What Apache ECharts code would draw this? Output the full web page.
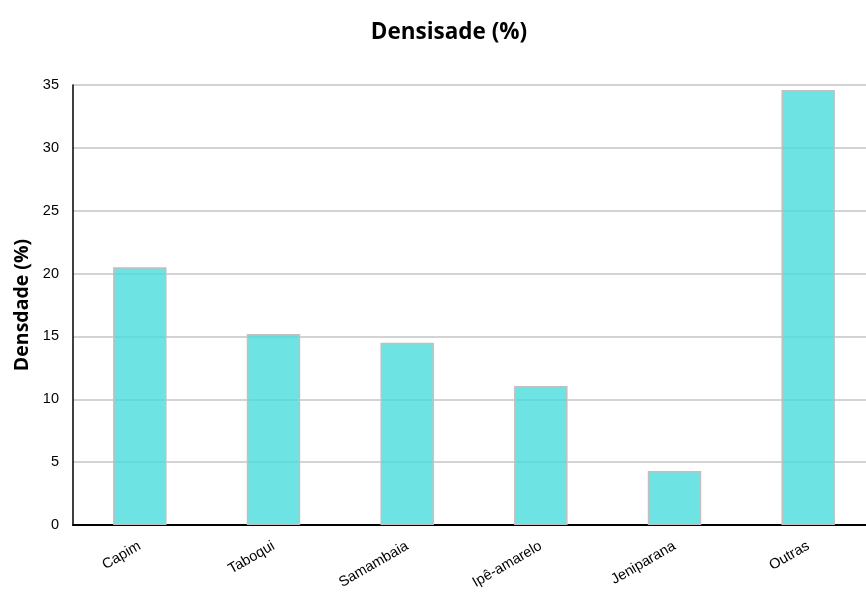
<!DOCTYPE html>
<html><head><meta charset="utf-8">
<script src="https://cdn.jsdelivr.net/npm/echarts@6/dist/echarts.min.js"></script>
<style>html,body{margin:0;padding:0;background:#fff}#c{width:866px;height:594px}</style>
</head><body><div id="c"></div>
<script>
const categories = ['Capim', 'Taboqui', 'Samambaia', 'Ipê-amarelo', 'Jeniparana', 'Outras'];
const densidade = [20.5, 15.2, 14.5, 11.05, 4.3, 34.6];
const yTicks = [0, 5, 10, 15, 20, 25, 30, 35];

const chart = echarts.init(document.getElementById('c'));
chart.setOption({
  animation: false,
  title: {
    text: 'Densisade (%)', left: 444, top: 16, textAlign: 'center',
    textStyle: { fontFamily: 'Open Sans', fontWeight: 'bold', fontSize: 22.5, color: '#000' }
  },
  grid: { left: 73, right: -9, top: 85, bottom: 69, containLabel: false, outerBoundsMode: 'none' },
  xAxis: {
    type: 'category', data: categories,
    axisLine: { lineStyle: { color: '#000', width: 2 } },
    axisTick: { show: false },
    axisLabel: { rotate: 30, fontFamily: 'Liberation Sans', fontSize: 14.5, color: '#000', margin: 20 }
  },
  yAxis: {
    type: 'value', min: yTicks[0], max: yTicks[yTicks.length - 1], interval: 5,
    name: 'Densdade (%)', nameLocation: 'middle', nameGap: 41,
    nameTextStyle: { fontFamily: 'Open Sans', fontWeight: 'bold', fontSize: 19.5, color: '#000' },
    axisLine: { show: true, lineStyle: { color: '#000', width: 1.5 } },
    axisTick: { show: false },
    axisLabel: { fontFamily: 'Liberation Sans', fontSize: 14.5, color: '#000', margin: 14 },
    splitLine: { lineStyle: { color: '#c4c4c4', width: 1.5 } }
  },
  series: [{
    type: 'bar', data: densidade, barWidth: '40%', z: 1,
    itemStyle: { color: 'rgba(72,221,220,0.8)', borderColor: '#c0c0c0', borderWidth: 1.5 }
  }]
});
</script></body></html>
